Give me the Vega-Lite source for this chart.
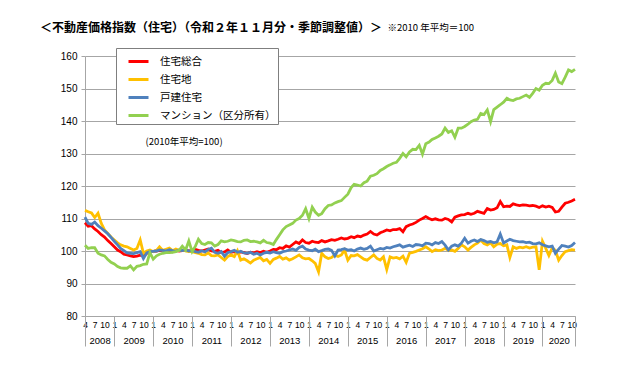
{
"$schema":"https://vega.github.io/schema/vega-lite/v6.json",
"width":490,"height":260,
"autosize":{"type":"none"},
"padding":{"left":85,"top":56,"right":65,"bottom":59},
"background":"white",
"title":{"text":"＜不動産価格指数（住宅）（令和２年１１月分・季節調整値）＞","anchor":"start","frame":"group","dx":-45,"offset":-13,"font":"Noto Sans CJK JP","fontSize":12,"fontWeight":"bold","color":"black"},
"data":{"values":[
{"d":"2008-04","s":"住宅総合","v":108.7},{"d":"2008-05","s":"住宅総合","v":107.6},{"d":"2008-06","s":"住宅総合","v":107.8},{"d":"2008-07","s":"住宅総合","v":106.8},{"d":"2008-08","s":"住宅総合","v":106.0},{"d":"2008-09","s":"住宅総合","v":105.0},{"d":"2008-10","s":"住宅総合","v":104.3},{"d":"2008-11","s":"住宅総合","v":103.2},{"d":"2008-12","s":"住宅総合","v":102.3},
{"d":"2009-01","s":"住宅総合","v":101.3},{"d":"2009-02","s":"住宅総合","v":100.3},{"d":"2009-03","s":"住宅総合","v":99.8},{"d":"2009-04","s":"住宅総合","v":99.0},{"d":"2009-05","s":"住宅総合","v":98.8},{"d":"2009-06","s":"住宅総合","v":98.5},{"d":"2009-07","s":"住宅総合","v":98.3},{"d":"2009-08","s":"住宅総合","v":98.4},{"d":"2009-09","s":"住宅総合","v":98.7},{"d":"2009-10","s":"住宅総合","v":98.5},{"d":"2009-11","s":"住宅総合","v":99.3},{"d":"2009-12","s":"住宅総合","v":99.8},
{"d":"2010-01","s":"住宅総合","v":99.9},{"d":"2010-02","s":"住宅総合","v":100.0},{"d":"2010-03","s":"住宅総合","v":100.2},{"d":"2010-04","s":"住宅総合","v":100.0},{"d":"2010-05","s":"住宅総合","v":100.3},{"d":"2010-06","s":"住宅総合","v":100.1},{"d":"2010-07","s":"住宅総合","v":99.8},{"d":"2010-08","s":"住宅総合","v":100.2},{"d":"2010-09","s":"住宅総合","v":100.0},{"d":"2010-10","s":"住宅総合","v":100.1},{"d":"2010-11","s":"住宅総合","v":100.4},{"d":"2010-12","s":"住宅総合","v":100.0},
{"d":"2011-01","s":"住宅総合","v":100.3},{"d":"2011-02","s":"住宅総合","v":100.5},{"d":"2011-03","s":"住宅総合","v":100.2},{"d":"2011-04","s":"住宅総合","v":100.0},{"d":"2011-05","s":"住宅総合","v":100.3},{"d":"2011-06","s":"住宅総合","v":100.6},{"d":"2011-07","s":"住宅総合","v":100.0},{"d":"2011-08","s":"住宅総合","v":99.9},{"d":"2011-09","s":"住宅総合","v":100.2},{"d":"2011-10","s":"住宅総合","v":99.5},{"d":"2011-11","s":"住宅総合","v":99.7},{"d":"2011-12","s":"住宅総合","v":100.3},
{"d":"2012-01","s":"住宅総合","v":99.6},{"d":"2012-02","s":"住宅総合","v":99.8},{"d":"2012-03","s":"住宅総合","v":99.3},{"d":"2012-04","s":"住宅総合","v":99.7},{"d":"2012-05","s":"住宅総合","v":99.5},{"d":"2012-06","s":"住宅総合","v":99.2},{"d":"2012-07","s":"住宅総合","v":99.6},{"d":"2012-08","s":"住宅総合","v":99.4},{"d":"2012-09","s":"住宅総合","v":99.8},{"d":"2012-10","s":"住宅総合","v":99.5},{"d":"2012-11","s":"住宅総合","v":99.9},{"d":"2012-12","s":"住宅総合","v":99.6},
{"d":"2013-01","s":"住宅総合","v":100.0},{"d":"2013-02","s":"住宅総合","v":100.5},{"d":"2013-03","s":"住宅総合","v":100.4},{"d":"2013-04","s":"住宅総合","v":101.0},{"d":"2013-05","s":"住宅総合","v":100.8},{"d":"2013-06","s":"住宅総合","v":101.6},{"d":"2013-07","s":"住宅総合","v":101.2},{"d":"2013-08","s":"住宅総合","v":102.0},{"d":"2013-09","s":"住宅総合","v":102.8},{"d":"2013-10","s":"住宅総合","v":102.3},{"d":"2013-11","s":"住宅総合","v":103.4},{"d":"2013-12","s":"住宅総合","v":102.6},
{"d":"2014-01","s":"住宅総合","v":102.4},{"d":"2014-02","s":"住宅総合","v":103.0},{"d":"2014-03","s":"住宅総合","v":102.7},{"d":"2014-04","s":"住宅総合","v":102.6},{"d":"2014-05","s":"住宅総合","v":103.2},{"d":"2014-06","s":"住宅総合","v":102.8},{"d":"2014-07","s":"住宅総合","v":103.1},{"d":"2014-08","s":"住宅総合","v":103.5},{"d":"2014-09","s":"住宅総合","v":103.3},{"d":"2014-10","s":"住宅総合","v":103.6},{"d":"2014-11","s":"住宅総合","v":104.0},{"d":"2014-12","s":"住宅総合","v":103.7},
{"d":"2015-01","s":"住宅総合","v":103.9},{"d":"2015-02","s":"住宅総合","v":104.4},{"d":"2015-03","s":"住宅総合","v":104.1},{"d":"2015-04","s":"住宅総合","v":104.6},{"d":"2015-05","s":"住宅総合","v":104.4},{"d":"2015-06","s":"住宅総合","v":104.9},{"d":"2015-07","s":"住宅総合","v":105.2},{"d":"2015-08","s":"住宅総合","v":106.0},{"d":"2015-09","s":"住宅総合","v":105.2},{"d":"2015-10","s":"住宅総合","v":104.9},{"d":"2015-11","s":"住宅総合","v":105.6},{"d":"2015-12","s":"住宅総合","v":106.0},
{"d":"2016-01","s":"住宅総合","v":106.5},{"d":"2016-02","s":"住宅総合","v":106.2},{"d":"2016-03","s":"住宅総合","v":106.6},{"d":"2016-04","s":"住宅総合","v":106.6},{"d":"2016-05","s":"住宅総合","v":106.9},{"d":"2016-06","s":"住宅総合","v":105.9},{"d":"2016-07","s":"住宅総合","v":107.5},{"d":"2016-08","s":"住宅総合","v":108.0},{"d":"2016-09","s":"住宅総合","v":108.3},{"d":"2016-10","s":"住宅総合","v":108.8},{"d":"2016-11","s":"住宅総合","v":109.5},{"d":"2016-12","s":"住宅総合","v":110.0},
{"d":"2017-01","s":"住宅総合","v":110.6},{"d":"2017-02","s":"住宅総合","v":110.0},{"d":"2017-03","s":"住宅総合","v":109.6},{"d":"2017-04","s":"住宅総合","v":109.9},{"d":"2017-05","s":"住宅総合","v":109.6},{"d":"2017-06","s":"住宅総合","v":109.5},{"d":"2017-07","s":"住宅総合","v":110.0},{"d":"2017-08","s":"住宅総合","v":109.7},{"d":"2017-09","s":"住宅総合","v":108.9},{"d":"2017-10","s":"住宅総合","v":110.4},{"d":"2017-11","s":"住宅総合","v":110.8},{"d":"2017-12","s":"住宅総合","v":111.1},
{"d":"2018-01","s":"住宅総合","v":111.2},{"d":"2018-02","s":"住宅総合","v":111.6},{"d":"2018-03","s":"住宅総合","v":111.3},{"d":"2018-04","s":"住宅総合","v":111.6},{"d":"2018-05","s":"住宅総合","v":112.2},{"d":"2018-06","s":"住宅総合","v":111.9},{"d":"2018-07","s":"住宅総合","v":111.6},{"d":"2018-08","s":"住宅総合","v":113.1},{"d":"2018-09","s":"住宅総合","v":112.6},{"d":"2018-10","s":"住宅総合","v":112.8},{"d":"2018-11","s":"住宅総合","v":113.3},{"d":"2018-12","s":"住宅総合","v":115.2},
{"d":"2019-01","s":"住宅総合","v":113.6},{"d":"2019-02","s":"住宅総合","v":113.8},{"d":"2019-03","s":"住宅総合","v":113.7},{"d":"2019-04","s":"住宅総合","v":114.5},{"d":"2019-05","s":"住宅総合","v":114.2},{"d":"2019-06","s":"住宅総合","v":114.0},{"d":"2019-07","s":"住宅総合","v":114.2},{"d":"2019-08","s":"住宅総合","v":114.1},{"d":"2019-09","s":"住宅総合","v":113.9},{"d":"2019-10","s":"住宅総合","v":114.0},{"d":"2019-11","s":"住宅総合","v":113.8},{"d":"2019-12","s":"住宅総合","v":113.4},
{"d":"2020-01","s":"住宅総合","v":113.9},{"d":"2020-02","s":"住宅総合","v":113.5},{"d":"2020-03","s":"住宅総合","v":113.8},{"d":"2020-04","s":"住宅総合","v":113.4},{"d":"2020-05","s":"住宅総合","v":112.0},{"d":"2020-06","s":"住宅総合","v":112.2},{"d":"2020-07","s":"住宅総合","v":113.5},{"d":"2020-08","s":"住宅総合","v":114.7},{"d":"2020-09","s":"住宅総合","v":115.0},{"d":"2020-10","s":"住宅総合","v":115.4},{"d":"2020-11","s":"住宅総合","v":115.9},
{"d":"2008-04","s":"住宅地","v":112.5},{"d":"2008-05","s":"住宅地","v":112.1},{"d":"2008-06","s":"住宅地","v":111.7},{"d":"2008-07","s":"住宅地","v":110.3},{"d":"2008-08","s":"住宅地","v":111.6},{"d":"2008-09","s":"住宅地","v":108.5},{"d":"2008-10","s":"住宅地","v":106.5},{"d":"2008-11","s":"住宅地","v":105.4},{"d":"2008-12","s":"住宅地","v":104.3},
{"d":"2009-01","s":"住宅地","v":103.4},{"d":"2009-02","s":"住宅地","v":102.5},{"d":"2009-03","s":"住宅地","v":101.9},{"d":"2009-04","s":"住宅地","v":101.5},{"d":"2009-05","s":"住宅地","v":101.3},{"d":"2009-06","s":"住宅地","v":100.8},{"d":"2009-07","s":"住宅地","v":100.3},{"d":"2009-08","s":"住宅地","v":100.8},{"d":"2009-09","s":"住宅地","v":103.4},{"d":"2009-10","s":"住宅地","v":99.3},{"d":"2009-11","s":"住宅地","v":100.0},{"d":"2009-12","s":"住宅地","v":100.3},
{"d":"2010-01","s":"住宅地","v":99.8},{"d":"2010-02","s":"住宅地","v":100.2},{"d":"2010-03","s":"住宅地","v":101.3},{"d":"2010-04","s":"住宅地","v":100.2},{"d":"2010-05","s":"住宅地","v":100.5},{"d":"2010-06","s":"住宅地","v":100.9},{"d":"2010-07","s":"住宅地","v":100.1},{"d":"2010-08","s":"住宅地","v":100.6},{"d":"2010-09","s":"住宅地","v":100.2},{"d":"2010-10","s":"住宅地","v":100.3},{"d":"2010-11","s":"住宅地","v":100.0},{"d":"2010-12","s":"住宅地","v":99.8},
{"d":"2011-01","s":"住宅地","v":99.8},{"d":"2011-02","s":"住宅地","v":99.5},{"d":"2011-03","s":"住宅地","v":99.3},{"d":"2011-04","s":"住宅地","v":98.9},{"d":"2011-05","s":"住宅地","v":98.8},{"d":"2011-06","s":"住宅地","v":99.4},{"d":"2011-07","s":"住宅地","v":98.6},{"d":"2011-08","s":"住宅地","v":98.5},{"d":"2011-09","s":"住宅地","v":98.8},{"d":"2011-10","s":"住宅地","v":98.0},{"d":"2011-11","s":"住宅地","v":97.2},{"d":"2011-12","s":"住宅地","v":98.3},
{"d":"2012-01","s":"住宅地","v":98.8},{"d":"2012-02","s":"住宅地","v":98.3},{"d":"2012-03","s":"住宅地","v":100.1},{"d":"2012-04","s":"住宅地","v":97.2},{"d":"2012-05","s":"住宅地","v":97.6},{"d":"2012-06","s":"住宅地","v":97.0},{"d":"2012-07","s":"住宅地","v":96.3},{"d":"2012-08","s":"住宅地","v":97.2},{"d":"2012-09","s":"住宅地","v":97.6},{"d":"2012-10","s":"住宅地","v":98.0},{"d":"2012-11","s":"住宅地","v":97.0},{"d":"2012-12","s":"住宅地","v":97.4},
{"d":"2013-01","s":"住宅地","v":96.2},{"d":"2013-02","s":"住宅地","v":97.4},{"d":"2013-03","s":"住宅地","v":97.8},{"d":"2013-04","s":"住宅地","v":98.3},{"d":"2013-05","s":"住宅地","v":97.5},{"d":"2013-06","s":"住宅地","v":97.9},{"d":"2013-07","s":"住宅地","v":97.2},{"d":"2013-08","s":"住宅地","v":97.6},{"d":"2013-09","s":"住宅地","v":98.2},{"d":"2013-10","s":"住宅地","v":98.8},{"d":"2013-11","s":"住宅地","v":97.9},{"d":"2013-12","s":"住宅地","v":97.6},
{"d":"2014-01","s":"住宅地","v":97.7},{"d":"2014-02","s":"住宅地","v":97.0},{"d":"2014-03","s":"住宅地","v":96.2},{"d":"2014-04","s":"住宅地","v":93.6},{"d":"2014-05","s":"住宅地","v":99.3},{"d":"2014-06","s":"住宅地","v":98.2},{"d":"2014-07","s":"住宅地","v":97.7},{"d":"2014-08","s":"住宅地","v":98.0},{"d":"2014-09","s":"住宅地","v":98.8},{"d":"2014-10","s":"住宅地","v":98.3},{"d":"2014-11","s":"住宅地","v":98.8},{"d":"2014-12","s":"住宅地","v":100.3},
{"d":"2015-01","s":"住宅地","v":97.2},{"d":"2015-02","s":"住宅地","v":98.6},{"d":"2015-03","s":"住宅地","v":98.5},{"d":"2015-04","s":"住宅地","v":98.9},{"d":"2015-05","s":"住宅地","v":98.2},{"d":"2015-06","s":"住宅地","v":97.5},{"d":"2015-07","s":"住宅地","v":97.2},{"d":"2015-08","s":"住宅地","v":98.0},{"d":"2015-09","s":"住宅地","v":98.8},{"d":"2015-10","s":"住宅地","v":97.7},{"d":"2015-11","s":"住宅地","v":97.2},{"d":"2015-12","s":"住宅地","v":98.2},
{"d":"2016-01","s":"住宅地","v":94.3},{"d":"2016-02","s":"住宅地","v":98.2},{"d":"2016-03","s":"住宅地","v":97.8},{"d":"2016-04","s":"住宅地","v":98.0},{"d":"2016-05","s":"住宅地","v":97.6},{"d":"2016-06","s":"住宅地","v":98.4},{"d":"2016-07","s":"住宅地","v":96.5},{"d":"2016-08","s":"住宅地","v":99.3},{"d":"2016-09","s":"住宅地","v":99.6},{"d":"2016-10","s":"住宅地","v":99.9},{"d":"2016-11","s":"住宅地","v":100.3},{"d":"2016-12","s":"住宅地","v":100.7},
{"d":"2017-01","s":"住宅地","v":101.3},{"d":"2017-02","s":"住宅地","v":100.6},{"d":"2017-03","s":"住宅地","v":99.8},{"d":"2017-04","s":"住宅地","v":100.4},{"d":"2017-05","s":"住宅地","v":100.1},{"d":"2017-06","s":"住宅地","v":100.3},{"d":"2017-07","s":"住宅地","v":100.8},{"d":"2017-08","s":"住宅地","v":100.2},{"d":"2017-09","s":"住宅地","v":100.3},{"d":"2017-10","s":"住宅地","v":99.9},{"d":"2017-11","s":"住宅地","v":100.8},{"d":"2017-12","s":"住宅地","v":101.9},
{"d":"2018-01","s":"住宅地","v":101.3},{"d":"2018-02","s":"住宅地","v":100.3},{"d":"2018-03","s":"住宅地","v":101.1},{"d":"2018-04","s":"住宅地","v":101.9},{"d":"2018-05","s":"住宅地","v":102.4},{"d":"2018-06","s":"住宅地","v":103.4},{"d":"2018-07","s":"住宅地","v":102.3},{"d":"2018-08","s":"住宅地","v":101.9},{"d":"2018-09","s":"住宅地","v":102.5},{"d":"2018-10","s":"住宅地","v":101.3},{"d":"2018-11","s":"住宅地","v":102.1},{"d":"2018-12","s":"住宅地","v":102.3},
{"d":"2019-01","s":"住宅地","v":101.6},{"d":"2019-02","s":"住宅地","v":101.9},{"d":"2019-03","s":"住宅地","v":98.0},{"d":"2019-04","s":"住宅地","v":101.3},{"d":"2019-05","s":"住宅地","v":100.8},{"d":"2019-06","s":"住宅地","v":101.2},{"d":"2019-07","s":"住宅地","v":101.0},{"d":"2019-08","s":"住宅地","v":101.3},{"d":"2019-09","s":"住宅地","v":100.9},{"d":"2019-10","s":"住宅地","v":101.2},{"d":"2019-11","s":"住宅地","v":101.3},{"d":"2019-12","s":"住宅地","v":94.2},
{"d":"2020-01","s":"住宅地","v":103.0},{"d":"2020-02","s":"住宅地","v":100.8},{"d":"2020-03","s":"住宅地","v":98.6},{"d":"2020-04","s":"住宅地","v":101.0},{"d":"2020-05","s":"住宅地","v":100.2},{"d":"2020-06","s":"住宅地","v":97.2},{"d":"2020-07","s":"住宅地","v":98.6},{"d":"2020-08","s":"住宅地","v":99.8},{"d":"2020-09","s":"住宅地","v":100.1},{"d":"2020-10","s":"住宅地","v":100.4},{"d":"2020-11","s":"住宅地","v":100.3},
{"d":"2008-04","s":"戸建住宅","v":110.4},{"d":"2008-05","s":"戸建住宅","v":108.5},{"d":"2008-06","s":"戸建住宅","v":108.2},{"d":"2008-07","s":"戸建住宅","v":108.9},{"d":"2008-08","s":"戸建住宅","v":107.8},{"d":"2008-09","s":"戸建住宅","v":107.0},{"d":"2008-10","s":"戸建住宅","v":106.2},{"d":"2008-11","s":"戸建住宅","v":105.3},{"d":"2008-12","s":"戸建住宅","v":104.2},
{"d":"2009-01","s":"戸建住宅","v":103.0},{"d":"2009-02","s":"戸建住宅","v":101.9},{"d":"2009-03","s":"戸建住宅","v":100.8},{"d":"2009-04","s":"戸建住宅","v":100.1},{"d":"2009-05","s":"戸建住宅","v":99.4},{"d":"2009-06","s":"戸建住宅","v":99.3},{"d":"2009-07","s":"戸建住宅","v":99.2},{"d":"2009-08","s":"戸建住宅","v":99.5},{"d":"2009-09","s":"戸建住宅","v":99.8},{"d":"2009-10","s":"戸建住宅","v":97.7},{"d":"2009-11","s":"戸建住宅","v":99.4},{"d":"2009-12","s":"戸建住宅","v":99.8},
{"d":"2010-01","s":"戸建住宅","v":99.9},{"d":"2010-02","s":"戸建住宅","v":100.0},{"d":"2010-03","s":"戸建住宅","v":100.3},{"d":"2010-04","s":"戸建住宅","v":100.2},{"d":"2010-05","s":"戸建住宅","v":100.0},{"d":"2010-06","s":"戸建住宅","v":100.4},{"d":"2010-07","s":"戸建住宅","v":100.1},{"d":"2010-08","s":"戸建住宅","v":99.9},{"d":"2010-09","s":"戸建住宅","v":100.3},{"d":"2010-10","s":"戸建住宅","v":100.1},{"d":"2010-11","s":"戸建住宅","v":100.4},{"d":"2010-12","s":"戸建住宅","v":100.0},
{"d":"2011-01","s":"戸建住宅","v":100.2},{"d":"2011-02","s":"戸建住宅","v":99.8},{"d":"2011-03","s":"戸建住宅","v":99.6},{"d":"2011-04","s":"戸建住宅","v":100.1},{"d":"2011-05","s":"戸建住宅","v":99.7},{"d":"2011-06","s":"戸建住宅","v":100.5},{"d":"2011-07","s":"戸建住宅","v":100.9},{"d":"2011-08","s":"戸建住宅","v":99.6},{"d":"2011-09","s":"戸建住宅","v":99.3},{"d":"2011-10","s":"戸建住宅","v":99.8},{"d":"2011-11","s":"戸建住宅","v":98.4},{"d":"2011-12","s":"戸建住宅","v":99.5},
{"d":"2012-01","s":"戸建住宅","v":99.8},{"d":"2012-02","s":"戸建住宅","v":100.2},{"d":"2012-03","s":"戸建住宅","v":99.6},{"d":"2012-04","s":"戸建住宅","v":99.9},{"d":"2012-05","s":"戸建住宅","v":99.4},{"d":"2012-06","s":"戸建住宅","v":99.3},{"d":"2012-07","s":"戸建住宅","v":99.6},{"d":"2012-08","s":"戸建住宅","v":99.0},{"d":"2012-09","s":"戸建住宅","v":99.3},{"d":"2012-10","s":"戸建住宅","v":98.8},{"d":"2012-11","s":"戸建住宅","v":99.3},{"d":"2012-12","s":"戸建住宅","v":99.6},
{"d":"2013-01","s":"戸建住宅","v":99.4},{"d":"2013-02","s":"戸建住宅","v":99.8},{"d":"2013-03","s":"戸建住宅","v":99.5},{"d":"2013-04","s":"戸建住宅","v":99.3},{"d":"2013-05","s":"戸建住宅","v":99.8},{"d":"2013-06","s":"戸建住宅","v":100.0},{"d":"2013-07","s":"戸建住宅","v":100.3},{"d":"2013-08","s":"戸建住宅","v":100.6},{"d":"2013-09","s":"戸建住宅","v":100.2},{"d":"2013-10","s":"戸建住宅","v":101.1},{"d":"2013-11","s":"戸建住宅","v":101.5},{"d":"2013-12","s":"戸建住宅","v":100.6},
{"d":"2014-01","s":"戸建住宅","v":100.3},{"d":"2014-02","s":"戸建住宅","v":100.1},{"d":"2014-03","s":"戸建住宅","v":100.6},{"d":"2014-04","s":"戸建住宅","v":99.8},{"d":"2014-05","s":"戸建住宅","v":100.1},{"d":"2014-06","s":"戸建住宅","v":100.5},{"d":"2014-07","s":"戸建住宅","v":100.6},{"d":"2014-08","s":"戸建住宅","v":100.2},{"d":"2014-09","s":"戸建住宅","v":98.5},{"d":"2014-10","s":"戸建住宅","v":100.3},{"d":"2014-11","s":"戸建住宅","v":100.4},{"d":"2014-12","s":"戸建住宅","v":100.7},
{"d":"2015-01","s":"戸建住宅","v":100.3},{"d":"2015-02","s":"戸建住宅","v":100.4},{"d":"2015-03","s":"戸建住宅","v":100.0},{"d":"2015-04","s":"戸建住宅","v":100.6},{"d":"2015-05","s":"戸建住宅","v":100.9},{"d":"2015-06","s":"戸建住宅","v":100.5},{"d":"2015-07","s":"戸建住宅","v":100.8},{"d":"2015-08","s":"戸建住宅","v":101.5},{"d":"2015-09","s":"戸建住宅","v":100.0},{"d":"2015-10","s":"戸建住宅","v":100.4},{"d":"2015-11","s":"戸建住宅","v":100.8},{"d":"2015-12","s":"戸建住宅","v":100.6},
{"d":"2016-01","s":"戸建住宅","v":101.1},{"d":"2016-02","s":"戸建住宅","v":100.9},{"d":"2016-03","s":"戸建住宅","v":101.3},{"d":"2016-04","s":"戸建住宅","v":101.6},{"d":"2016-05","s":"戸建住宅","v":101.9},{"d":"2016-06","s":"戸建住宅","v":101.2},{"d":"2016-07","s":"戸建住宅","v":101.5},{"d":"2016-08","s":"戸建住宅","v":101.8},{"d":"2016-09","s":"戸建住宅","v":101.4},{"d":"2016-10","s":"戸建住宅","v":102.0},{"d":"2016-11","s":"戸建住宅","v":101.9},{"d":"2016-12","s":"戸建住宅","v":101.6},
{"d":"2017-01","s":"戸建住宅","v":102.4},{"d":"2017-02","s":"戸建住宅","v":102.3},{"d":"2017-03","s":"戸建住宅","v":101.9},{"d":"2017-04","s":"戸建住宅","v":102.6},{"d":"2017-05","s":"戸建住宅","v":102.3},{"d":"2017-06","s":"戸建住宅","v":102.9},{"d":"2017-07","s":"戸建住宅","v":101.8},{"d":"2017-08","s":"戸建住宅","v":100.3},{"d":"2017-09","s":"戸建住宅","v":101.5},{"d":"2017-10","s":"戸建住宅","v":101.9},{"d":"2017-11","s":"戸建住宅","v":101.5},{"d":"2017-12","s":"戸建住宅","v":102.4},
{"d":"2018-01","s":"戸建住宅","v":103.9},{"d":"2018-02","s":"戸建住宅","v":102.4},{"d":"2018-03","s":"戸建住宅","v":103.0},{"d":"2018-04","s":"戸建住宅","v":103.4},{"d":"2018-05","s":"戸建住宅","v":102.9},{"d":"2018-06","s":"戸建住宅","v":103.5},{"d":"2018-07","s":"戸建住宅","v":103.2},{"d":"2018-08","s":"戸建住宅","v":102.7},{"d":"2018-09","s":"戸建住宅","v":102.9},{"d":"2018-10","s":"戸建住宅","v":102.5},{"d":"2018-11","s":"戸建住宅","v":102.8},{"d":"2018-12","s":"戸建住宅","v":105.2},
{"d":"2019-01","s":"戸建住宅","v":102.5},{"d":"2019-02","s":"戸建住宅","v":103.1},{"d":"2019-03","s":"戸建住宅","v":103.6},{"d":"2019-04","s":"戸建住宅","v":103.2},{"d":"2019-05","s":"戸建住宅","v":103.0},{"d":"2019-06","s":"戸建住宅","v":102.8},{"d":"2019-07","s":"戸建住宅","v":102.9},{"d":"2019-08","s":"戸建住宅","v":102.6},{"d":"2019-09","s":"戸建住宅","v":102.7},{"d":"2019-10","s":"戸建住宅","v":102.3},{"d":"2019-11","s":"戸建住宅","v":102.2},{"d":"2019-12","s":"戸建住宅","v":102.5},
{"d":"2020-01","s":"戸建住宅","v":101.9},{"d":"2020-02","s":"戸建住宅","v":101.6},{"d":"2020-03","s":"戸建住宅","v":101.3},{"d":"2020-04","s":"戸建住宅","v":101.5},{"d":"2020-05","s":"戸建住宅","v":99.3},{"d":"2020-06","s":"戸建住宅","v":100.6},{"d":"2020-07","s":"戸建住宅","v":101.7},{"d":"2020-08","s":"戸建住宅","v":101.5},{"d":"2020-09","s":"戸建住宅","v":101.2},{"d":"2020-10","s":"戸建住宅","v":101.7},{"d":"2020-11","s":"戸建住宅","v":102.6},
{"d":"2008-04","s":"マンション（区分所有）","v":101.8},{"d":"2008-05","s":"マンション（区分所有）","v":100.8},{"d":"2008-06","s":"マンション（区分所有）","v":101.0},{"d":"2008-07","s":"マンション（区分所有）","v":101.0},{"d":"2008-08","s":"マンション（区分所有）","v":99.3},{"d":"2008-09","s":"マンション（区分所有）","v":98.8},{"d":"2008-10","s":"マンション（区分所有）","v":98.5},{"d":"2008-11","s":"マンション（区分所有）","v":97.4},{"d":"2008-12","s":"マンション（区分所有）","v":96.5},
{"d":"2009-01","s":"マンション（区分所有）","v":96.0},{"d":"2009-02","s":"マンション（区分所有）","v":95.2},{"d":"2009-03","s":"マンション（区分所有）","v":94.8},{"d":"2009-04","s":"マンション（区分所有）","v":94.7},{"d":"2009-05","s":"マンション（区分所有）","v":94.7},{"d":"2009-06","s":"マンション（区分所有）","v":95.4},{"d":"2009-07","s":"マンション（区分所有）","v":94.2},{"d":"2009-08","s":"マンション（区分所有）","v":95.3},{"d":"2009-09","s":"マンション（区分所有）","v":95.5},{"d":"2009-10","s":"マンション（区分所有）","v":95.9},{"d":"2009-11","s":"マンション（区分所有）","v":96.0},{"d":"2009-12","s":"マンション（区分所有）","v":99.5},
{"d":"2010-01","s":"マンション（区分所有）","v":97.5},{"d":"2010-02","s":"マンション（区分所有）","v":98.5},{"d":"2010-03","s":"マンション（区分所有）","v":99.0},{"d":"2010-04","s":"マンション（区分所有）","v":99.3},{"d":"2010-05","s":"マンション（区分所有）","v":99.5},{"d":"2010-06","s":"マンション（区分所有）","v":99.5},{"d":"2010-07","s":"マンション（区分所有）","v":99.6},{"d":"2010-08","s":"マンション（区分所有）","v":99.8},{"d":"2010-09","s":"マンション（区分所有）","v":100.2},{"d":"2010-10","s":"マンション（区分所有）","v":101.5},{"d":"2010-11","s":"マンション（区分所有）","v":100.3},{"d":"2010-12","s":"マンション（区分所有）","v":103.1},
{"d":"2011-01","s":"マンション（区分所有）","v":99.8},{"d":"2011-02","s":"マンション（区分所有）","v":101.5},{"d":"2011-03","s":"マンション（区分所有）","v":103.6},{"d":"2011-04","s":"マンション（区分所有）","v":102.3},{"d":"2011-05","s":"マンション（区分所有）","v":102.0},{"d":"2011-06","s":"マンション（区分所有）","v":102.6},{"d":"2011-07","s":"マンション（区分所有）","v":102.5},{"d":"2011-08","s":"マンション（区分所有）","v":101.5},{"d":"2011-09","s":"マンション（区分所有）","v":102.0},{"d":"2011-10","s":"マンション（区分所有）","v":103.1},{"d":"2011-11","s":"マンション（区分所有）","v":102.8},{"d":"2011-12","s":"マンション（区分所有）","v":103.0},
{"d":"2012-01","s":"マンション（区分所有）","v":103.4},{"d":"2012-02","s":"マンション（区分所有）","v":103.2},{"d":"2012-03","s":"マンション（区分所有）","v":102.9},{"d":"2012-04","s":"マンション（区分所有）","v":102.8},{"d":"2012-05","s":"マンション（区分所有）","v":103.3},{"d":"2012-06","s":"マンション（区分所有）","v":103.4},{"d":"2012-07","s":"マンション（区分所有）","v":102.9},{"d":"2012-08","s":"マンション（区分所有）","v":103.0},{"d":"2012-09","s":"マンション（区分所有）","v":102.8},{"d":"2012-10","s":"マンション（区分所有）","v":102.5},{"d":"2012-11","s":"マンション（区分所有）","v":103.3},{"d":"2012-12","s":"マンション（区分所有）","v":102.6},
{"d":"2013-01","s":"マンション（区分所有）","v":102.4},{"d":"2013-02","s":"マンション（区分所有）","v":102.0},{"d":"2013-03","s":"マンション（区分所有）","v":103.5},{"d":"2013-04","s":"マンション（区分所有）","v":105.0},{"d":"2013-05","s":"マンション（区分所有）","v":106.5},{"d":"2013-06","s":"マンション（区分所有）","v":107.5},{"d":"2013-07","s":"マンション（区分所有）","v":108.0},{"d":"2013-08","s":"マンション（区分所有）","v":108.5},{"d":"2013-09","s":"マンション（区分所有）","v":109.5},{"d":"2013-10","s":"マンション（区分所有）","v":110.0},{"d":"2013-11","s":"マンション（区分所有）","v":111.0},{"d":"2013-12","s":"マンション（区分所有）","v":113.0},
{"d":"2014-01","s":"マンション（区分所有）","v":110.0},{"d":"2014-02","s":"マンション（区分所有）","v":113.5},{"d":"2014-03","s":"マンション（区分所有）","v":112.0},{"d":"2014-04","s":"マンション（区分所有）","v":111.0},{"d":"2014-05","s":"マンション（区分所有）","v":111.5},{"d":"2014-06","s":"マンション（区分所有）","v":113.0},{"d":"2014-07","s":"マンション（区分所有）","v":114.0},{"d":"2014-08","s":"マンション（区分所有）","v":114.2},{"d":"2014-09","s":"マンション（区分所有）","v":114.8},{"d":"2014-10","s":"マンション（区分所有）","v":115.2},{"d":"2014-11","s":"マンション（区分所有）","v":115.5},{"d":"2014-12","s":"マンション（区分所有）","v":116.5},
{"d":"2015-01","s":"マンション（区分所有）","v":117.5},{"d":"2015-02","s":"マンション（区分所有）","v":119.5},{"d":"2015-03","s":"マンション（区分所有）","v":120.5},{"d":"2015-04","s":"マンション（区分所有）","v":120.3},{"d":"2015-05","s":"マンション（区分所有）","v":120.0},{"d":"2015-06","s":"マンション（区分所有）","v":121.0},{"d":"2015-07","s":"マンション（区分所有）","v":121.5},{"d":"2015-08","s":"マンション（区分所有）","v":123.0},{"d":"2015-09","s":"マンション（区分所有）","v":123.3},{"d":"2015-10","s":"マンション（区分所有）","v":123.8},{"d":"2015-11","s":"マンション（区分所有）","v":124.8},{"d":"2015-12","s":"マンション（区分所有）","v":125.3},
{"d":"2016-01","s":"マンション（区分所有）","v":126.0},{"d":"2016-02","s":"マンション（区分所有）","v":126.5},{"d":"2016-03","s":"マンション（区分所有）","v":127.0},{"d":"2016-04","s":"マンション（区分所有）","v":127.3},{"d":"2016-05","s":"マンション（区分所有）","v":128.5},{"d":"2016-06","s":"マンション（区分所有）","v":130.0},{"d":"2016-07","s":"マンション（区分所有）","v":129.0},{"d":"2016-08","s":"マンション（区分所有）","v":130.5},{"d":"2016-09","s":"マンション（区分所有）","v":131.3},{"d":"2016-10","s":"マンション（区分所有）","v":131.2},{"d":"2016-11","s":"マンション（区分所有）","v":132.5},{"d":"2016-12","s":"マンション（区分所有）","v":129.8},
{"d":"2017-01","s":"マンション（区分所有）","v":133.0},{"d":"2017-02","s":"マンション（区分所有）","v":133.5},{"d":"2017-03","s":"マンション（区分所有）","v":134.3},{"d":"2017-04","s":"マンション（区分所有）","v":134.8},{"d":"2017-05","s":"マンション（区分所有）","v":135.3},{"d":"2017-06","s":"マンション（区分所有）","v":136.0},{"d":"2017-07","s":"マンション（区分所有）","v":137.8},{"d":"2017-08","s":"マンション（区分所有）","v":136.5},{"d":"2017-09","s":"マンション（区分所有）","v":137.0},{"d":"2017-10","s":"マンション（区分所有）","v":135.0},{"d":"2017-11","s":"マンション（区分所有）","v":137.8},{"d":"2017-12","s":"マンション（区分所有）","v":137.8},
{"d":"2018-01","s":"マンション（区分所有）","v":138.3},{"d":"2018-02","s":"マンション（区分所有）","v":139.0},{"d":"2018-03","s":"マンション（区分所有）","v":139.8},{"d":"2018-04","s":"マンション（区分所有）","v":140.3},{"d":"2018-05","s":"マンション（区分所有）","v":140.5},{"d":"2018-06","s":"マンション（区分所有）","v":142.3},{"d":"2018-07","s":"マンション（区分所有）","v":142.0},{"d":"2018-08","s":"マンション（区分所有）","v":143.4},{"d":"2018-09","s":"マンション（区分所有）","v":139.8},{"d":"2018-10","s":"マンション（区分所有）","v":143.5},{"d":"2018-11","s":"マンション（区分所有）","v":144.3},{"d":"2018-12","s":"マンション（区分所有）","v":145.0},
{"d":"2019-01","s":"マンション（区分所有）","v":145.8},{"d":"2019-02","s":"マンション（区分所有）","v":147.0},{"d":"2019-03","s":"マンション（区分所有）","v":146.5},{"d":"2019-04","s":"マンション（区分所有）","v":146.3},{"d":"2019-05","s":"マンション（区分所有）","v":146.8},{"d":"2019-06","s":"マンション（区分所有）","v":147.0},{"d":"2019-07","s":"マンション（区分所有）","v":147.5},{"d":"2019-08","s":"マンション（区分所有）","v":148.0},{"d":"2019-09","s":"マンション（区分所有）","v":147.3},{"d":"2019-10","s":"マンション（区分所有）","v":148.5},{"d":"2019-11","s":"マンション（区分所有）","v":150.0},{"d":"2019-12","s":"マンション（区分所有）","v":149.5},
{"d":"2020-01","s":"マンション（区分所有）","v":151.0},{"d":"2020-02","s":"マンション（区分所有）","v":151.6},{"d":"2020-03","s":"マンション（区分所有）","v":151.5},{"d":"2020-04","s":"マンション（区分所有）","v":152.5},{"d":"2020-05","s":"マンション（区分所有）","v":154.7},{"d":"2020-06","s":"マンション（区分所有）","v":152.0},{"d":"2020-07","s":"マンション（区分所有）","v":151.5},{"d":"2020-08","s":"マンション（区分所有）","v":153.5},{"d":"2020-09","s":"マンション（区分所有）","v":155.7},{"d":"2020-10","s":"マンション（区分所有）","v":155.2},{"d":"2020-11","s":"マンション（区分所有）","v":155.9}
]},
"layer":[
{"mark":{"type":"line","strokeWidth":2.8},
 "encoding":{
  "x":{"field":"d","type":"temporal",
   "scale":{"type":"utc","domain":[{"year":2008,"month":4,"date":1,"utc":true},{"year":2020,"month":11,"date":1,"utc":true}]},
   "axis":{"orient":"bottom","tickCount":{"interval":"month","step":3},"format":"%-m","labelFont":"Liberation Sans Narrow, Liberation Sans","labelFontSize":8.5,"labelColor":"black","labelDx":1,"ticks":false,"tickSize":0,"domain":false,"grid":false,"labelPadding":4,"labelOverlap":false,"labelBound":false,"labelFlush":false,"title":null}},
  "y":{"field":"v","type":"quantitative","scale":{"domain":[80,160]},
   "axis":{"values":[80,90,100,110,120,130,140,150,160],"grid":true,"gridColor":"#a6a6a6","domainColor":"#a6a6a6","tickColor":"#a6a6a6","tickSize":4,"labelFont":"Liberation Sans","labelFontSize":10,"labelColor":"black","labelPadding":4,"title":"(2010年平均=100)","titleAngle":0,"titleX":60,"titleY":85,"titleAlign":"left","titleBaseline":"middle","titleFont":"Noto Sans CJK JP","titleFontSize":9.5,"titleFontWeight":"normal","titleColor":"black"}},
  "color":{"field":"s","type":"nominal",
   "scale":{"domain":["住宅総合","住宅地","戸建住宅","マンション（区分所有）"],"range":["#ff0000","#ffc000","#4f81bd","#92d050"]},
   "legend":{"orient":"none","legendX":31,"legendY":-8,"title":null,"symbolType":"stroke","symbolStrokeWidth":3,"symbolSize":400,"symbolOffset":9,"labelFont":"Noto Sans CJK JP","labelFontSize":10.5,"labelColor":"black","strokeColor":"#7f7f7f","fillColor":"white","padding":2,"rowPadding":0,"labelOffset":10}}
 }},
{"mark":{"type":"rule","opacity":0},
 "encoding":{
  "x":{"field":"d","type":"temporal",
   "scale":{"type":"utc","domain":[{"year":2008,"month":4,"date":1,"utc":true},{"year":2020,"month":11,"date":1,"utc":true}]},
   "axis":{"orient":"bottom","values":[{"year":2008,"month":8,"date":16,"utc":true},{"year":2009,"month":7,"date":1,"utc":true},{"year":2010,"month":7,"date":1,"utc":true},{"year":2011,"month":7,"date":1,"utc":true},{"year":2012,"month":7,"date":1,"utc":true},{"year":2013,"month":7,"date":1,"utc":true},{"year":2014,"month":7,"date":1,"utc":true},{"year":2015,"month":7,"date":1,"utc":true},{"year":2016,"month":7,"date":1,"utc":true},{"year":2017,"month":7,"date":1,"utc":true},{"year":2018,"month":7,"date":1,"utc":true},{"year":2019,"month":7,"date":1,"utc":true},{"year":2020,"month":6,"date":1,"utc":true}],"format":"%Y","labelFont":"Liberation Sans Narrow, Liberation Sans","labelFontSize":9.5,"labelColor":"black","ticks":false,"tickSize":0,"domain":false,"grid":false,"labelPadding":19,"labelOverlap":false,"labelBound":false,"labelFlush":false,"title":null}}
 }},
{"mark":{"type":"rule","opacity":0},
 "encoding":{
  "x":{"field":"d","type":"temporal",
   "scale":{"type":"utc","domain":[{"year":2008,"month":4,"date":1,"utc":true},{"year":2020,"month":11,"date":1,"utc":true}]},
   "axis":{"orient":"bottom","values":[{"year":2008,"month":4,"date":1,"utc":true},{"year":2009,"month":1,"date":1,"utc":true},{"year":2010,"month":1,"date":1,"utc":true},{"year":2011,"month":1,"date":1,"utc":true},{"year":2012,"month":1,"date":1,"utc":true},{"year":2013,"month":1,"date":1,"utc":true},{"year":2014,"month":1,"date":1,"utc":true},{"year":2015,"month":1,"date":1,"utc":true},{"year":2016,"month":1,"date":1,"utc":true},{"year":2017,"month":1,"date":1,"utc":true},{"year":2018,"month":1,"date":1,"utc":true},{"year":2019,"month":1,"date":1,"utc":true},{"year":2020,"month":1,"date":1,"utc":true},{"year":2020,"month":11,"date":1,"utc":true}],"labels":false,"ticks":true,"tickSize":30,"tickColor":"#a6a6a6","domain":true,"domainColor":"#a6a6a6","grid":false,"title":"※2010 年平均＝100","titleX":302,"titleY":-289,"titleAlign":"left","titleBaseline":"middle","titleFont":"Noto Sans CJK JP","titleFontSize":9.5,"titleFontWeight":"normal","titleColor":"black"}}
 }}
],
"resolve":{"axis":{"x":"independent"}},
"config":{"view":{"stroke":null},"font":"Liberation Sans"}
}
